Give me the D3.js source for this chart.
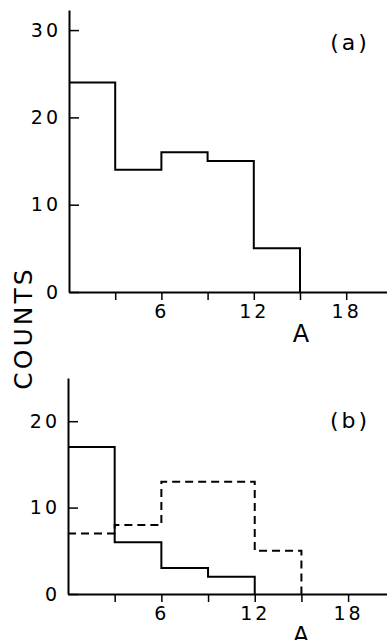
<!DOCTYPE html>
<html lang="en">
<head>
<meta charset="UTF-8">
<title>Counts histogram</title>
<script src="https://d3js.org/d3.v7.min.js"></script>
<style>
  body { margin: 0; background: #fff; }
  svg text { font-family: "DejaVu Sans", sans-serif; fill: #000; }
</style>
</head>
<body>
<div id="chart"></div>
<script>
// bin edges along A and the counts per bin
const binEdges = [0, 3, 6, 9, 12, 15];
const countsA = [24, 14, 16, 15, 5];
const countsBSolid = [17, 6, 3, 2, 0];
const countsBDashed = [7, 8, 13, 13, 5];
const xTicks = [3, 6, 9, 12, 15, 18];
const xLabels = [6, 12, 18];
const yTicksA = [0, 10, 20, 30];
const yTicksB = [0, 10, 20];

const W = 387, H = 640;

const svg = d3.select("#chart").append("svg")
    .attr("width", W)
    .attr("height", H);

// turn counts into step points: each bin value, then drop to 0 at the last edge
function steps(counts) {
    const pts = counts.map((c, i) => [binEdges[i], c]);
    const last = counts.length;
    if (counts[last - 1] > 0) pts.push([binEdges[last], 0]);
    else pts[last - 1] = [binEdges[last - 1], 0];
    return pts;
}

function panel(opt) {
    const x = d3.scaleLinear().domain([0, opt.xMax]).range([opt.left, W]);
    const y = d3.scaleLinear().domain([0, opt.yMax]).range([opt.bottom, opt.top]);

    const g = svg.append("g");

    // x axis, ticks hanging down
    const xAxis = g.append("g")
        .attr("transform", `translate(0,${opt.bottom})`)
        .call(d3.axisBottom(x)
            .tickValues(xTicks)
            .tickSizeInner(8)
            .tickSizeOuter(0)
            .tickPadding(5)
            .tickFormat(d => xLabels.includes(d) ? d : ""));

    // y axis, ticks pointing into the plot
    const yAxis = g.append("g")
        .attr("transform", `translate(${opt.left},0)`)
        .call(d3.axisLeft(y)
            .tickValues(opt.yTicks)
            .tickSizeInner(-10)
            .tickSizeOuter(0)
            .tickPadding(8));

    [xAxis, yAxis].forEach(a => {
        a.select(".domain").attr("stroke", "#000").attr("stroke-width", 2);
        a.selectAll(".tick line").attr("stroke", "#000").attr("stroke-width", 1.5);
        a.selectAll(".tick text")
            .style("font-family", "DejaVu Sans, sans-serif")
            .style("font-size", "19px")
            .style("letter-spacing", "3px");
    });

    const line = d3.line()
        .x(d => x(d[0]))
        .y(d => y(d[1]))
        .curve(d3.curveStepAfter);

    opt.series.forEach(s => {
        g.append("path")
            .datum(steps(s.counts))
            .attr("d", line)
            .attr("fill", "none")
            .attr("stroke", "#000")
            .attr("stroke-width", 2)
            .attr("stroke-dasharray", s.dash || null);
    });

    g.append("text")
        .attr("x", 350)
        .attr("y", opt.tagY)
        .attr("text-anchor", "middle")
        .style("font-size", "22px")
        .style("letter-spacing", "3px")
        .text(opt.tag);

    g.append("text")
        .attr("x", 301)
        .attr("y", opt.bottom + 50)
        .attr("text-anchor", "middle")
        .style("font-size", "24px")
        .text("A");
}

panel({
    left: 69, top: 10, bottom: 292,
    xMax: 20.65, yMax: 32.3, yTicks: yTicksA,
    tag: "(a)", tagY: 50,
    series: [{ counts: countsA }]
});

panel({
    left: 68, top: 378, bottom: 594,
    xMax: 20.5, yMax: 25, yTicks: yTicksB,
    tag: "(b)", tagY: 428,
    series: [{ counts: countsBDashed, dash: "8,5" }, { counts: countsBSolid }]
});

// shared y label
svg.append("text")
    .attr("transform", "translate(32,328) rotate(-90)")
    .attr("text-anchor", "middle")
    .style("font-size", "25px")
    .style("letter-spacing", "3px")
    .text("COUNTS");
</script>
</body>
</html>
